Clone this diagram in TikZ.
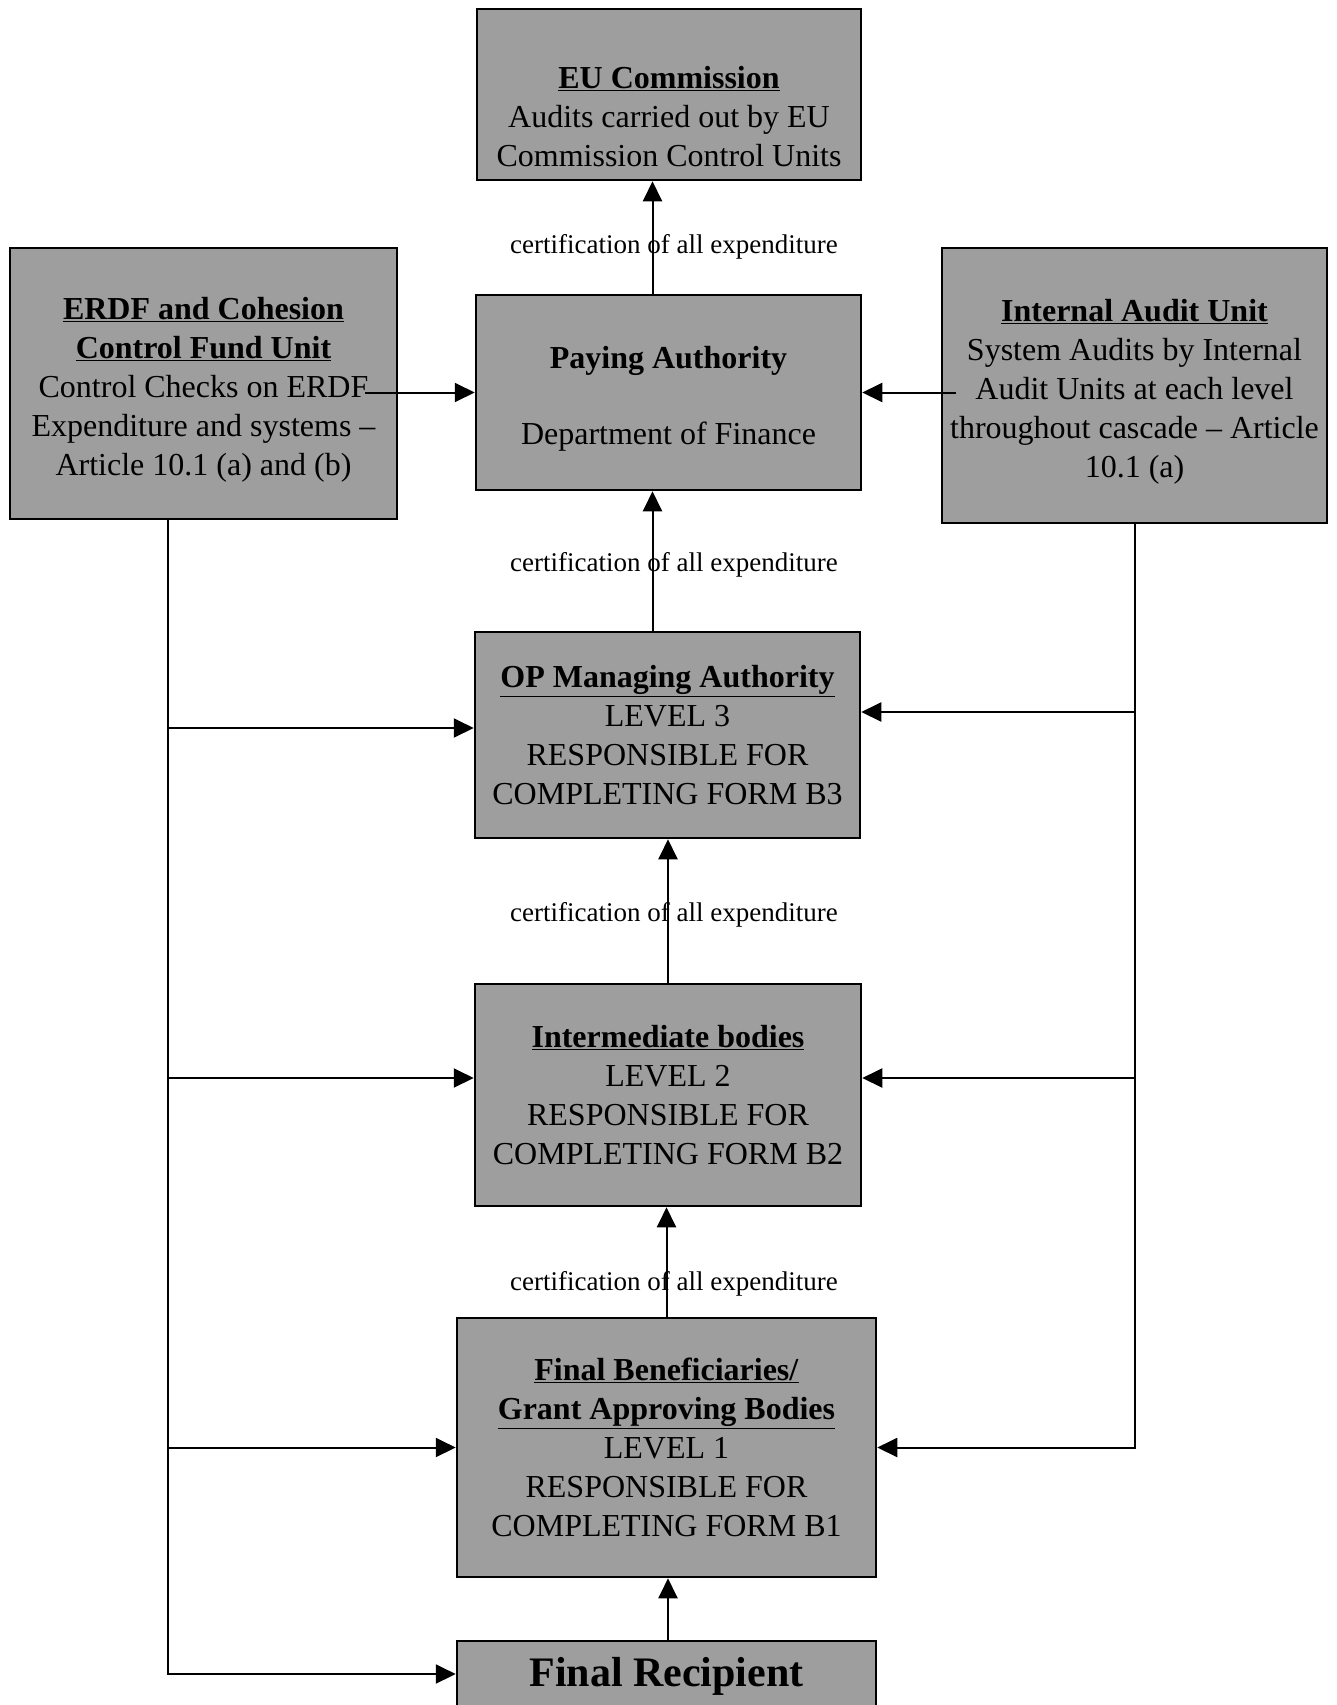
\documentclass[tikz,border=0pt]{standalone}
\usepackage{fontspec}
\setmainfont{Liberation Serif}
\usetikzlibrary{arrows.meta}

\newcommand\topgap[1]{\rule{0pt}{#1}}

\tikzset{
  unit/.style={draw, line width=2.5pt, fill=black!38, align=center, inner sep=0pt,
    font=\fontsize{32}{39}\selectfont},
  arr/.style={line width=2pt, -{Triangle[length=20pt,width=19pt]}},
  cert/.style={font=\fontsize{27}{32}\selectfont},
}

\begin{document}
\begin{tikzpicture}[x=1pt, y=-1pt, line join=miter]
  \useasboundingbox (0,0) rectangle (1337,1705);

  \node[unit, minimum width=384pt, minimum height=171pt] (eu) at (669,94.5)
    {\topgap{66pt}\underline{\textbf{EU Commission}}\\Audits carried out by EU\\Commission Control Units};
  \node[unit, minimum width=387pt, minimum height=271pt] (erdf) at (203.5,383.5)
    {\topgap{34pt}\underline{\textbf{ERDF and Cohesion}}\\\underline{\textbf{Control Fund Unit}}\\Control Checks on ERDF\\Expenditure and systems --\\Article 10.1 (a) and (b)};
  \node[unit, minimum width=385pt, minimum height=195pt] (pay) at (668.5,392.5)
    {\topgap{34pt}\textbf{Paying Authority}\\[37pt]Department of Finance};
  \node[unit, minimum width=385pt, minimum height=275pt] (iau) at (1134.5,385.5)
    {\topgap{34pt}\underline{\textbf{Internal Audit Unit}}\\System Audits by Internal\\Audit Units at each level\\throughout cascade -- Article\\10.1 (a)};
  \node[unit, minimum width=385pt, minimum height=206pt] (op) at (667.5,735)
    {\underline{\textbf{OP Managing Authority}}\\LEVEL 3\\RESPONSIBLE FOR\\COMPLETING FORM B3};
  \node[unit, minimum width=386pt, minimum height=222pt] (inter) at (668,1095)
    {\underline{\textbf{Intermediate bodies}}\\LEVEL 2\\RESPONSIBLE FOR\\COMPLETING FORM B2};
  \node[unit, minimum width=419pt, minimum height=259pt] (fb) at (666.5,1447.5)
    {\underline{\textbf{Final Beneficiaries/}}\\\underline{\textbf{Grant Approving Bodies}}\\LEVEL 1\\RESPONSIBLE FOR\\COMPLETING FORM B1};
  \node[unit, minimum width=419pt, minimum height=70pt, font=\fontsize{42}{50}\selectfont\bfseries] (fr) at (666.5,1676)
    {Final Recipient};

  % certification cascade
  \foreach \a/\b/\s/\p/\l in {pay/eu/-16/.45/21.5, op/pay/-15/.5/21.5, inter/op/0/.5/6, fb/inter/0/.34/7.5} {
    \draw[arr] ([xshift=\s pt]\a.north) -- ([xshift=\s pt]\a.north |- \b.south)
      node[cert, pos=\p, xshift=\l pt, yshift=-4pt] {certification of all expenditure};
  }
  \draw[arr] ([xshift=1.5pt]fr.north) -- ([xshift=1.5pt]fb.south);

  % control checks and audits
  \draw[arr] ([xshift=-33pt]pay.west -| erdf.east) -- (pay.west);
  \draw[arr] ([xshift=15pt]pay.east -| iau.west) -- (pay.east);

  \coordinate (ltrunk) at ([xshift=-35.5pt]erdf.south);
  \draw[arr] (ltrunk) |- ([yshift=2pt]fr.west);
  \draw[arr] ([yshift=7pt]op.west -| ltrunk) -- ([yshift=7pt]op.west);
  \draw[arr] ([yshift=17pt]inter.west -| ltrunk) -- ([yshift=17pt]inter.west);
  \draw[arr] (fb.west -| ltrunk) -- (fb.west);

  \draw[arr] (iau.south) |- (fb.east);
  \draw[arr] ([yshift=23pt]op.east -| iau.south) -- ([yshift=23pt]op.east);
  \draw[arr] ([yshift=17pt]inter.east -| iau.south) -- ([yshift=17pt]inter.east);
\end{tikzpicture}
\end{document}
